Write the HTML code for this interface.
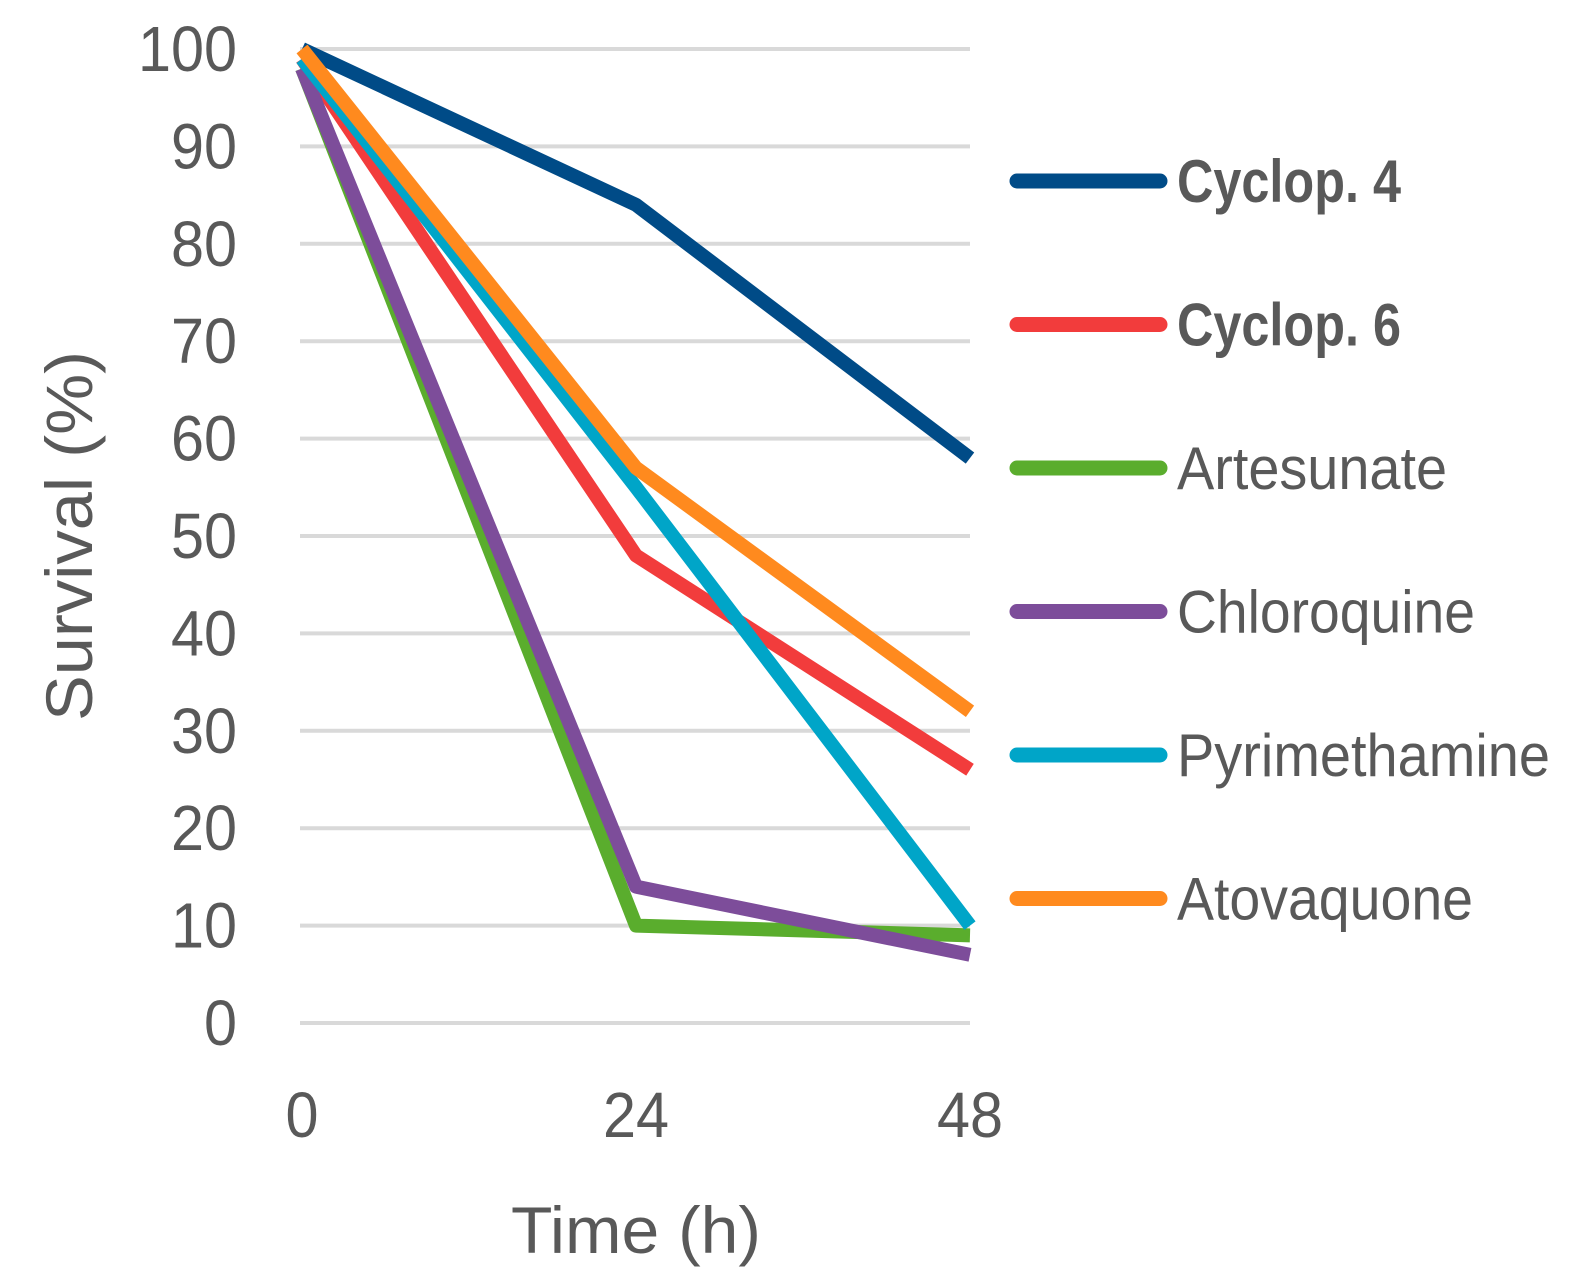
<!DOCTYPE html>
<html><head><meta charset="utf-8"><style>
html,body{margin:0;padding:0;background:#fff;}
svg{display:block;font-family:"Liberation Sans",sans-serif;}
</style></head><body>
<svg id="chart" width="1571" height="1279" viewBox="0 0 1571 1279">
<g id="grid"></g>
<g id="yticks"></g>
<g id="xticks"></g>
<g id="series"></g>
<g id="legend"></g>
<text x="636" y="1253" font-size="66" fill="#595959" text-anchor="middle" textLength="250" lengthAdjust="spacingAndGlyphs">Time (h)</text>
<text transform="translate(92,536) rotate(-90)" font-size="66" fill="#595959" text-anchor="middle" textLength="370" lengthAdjust="spacingAndGlyphs">Survival (%)</text>
</svg>
<script>
const categories = [0, 24, 48];
const yTicks = [0,10,20,30,40,50,60,70,80,90,100];
const seriesNames = ["Cyclop. 4","Cyclop. 6","Artesunate","Chloroquine","Pyrimethamine","Atovaquone"];
const cyclop4 = [100, 84, 58];
const cyclop6 = [99, 48, 26];
const artesunate = [98, 10, 9];
const chloroquine = [98, 14, 7];
const pyrimethamine = [99, 55, 10];
const atovaquone = [100, 57, 32];
const seriesValues = [cyclop4, cyclop6, artesunate, chloroquine, pyrimethamine, atovaquone];
const colors = ["#004b87","#f23c3c","#5aad2d","#7d4d9a","#00a5c8","#ff8a1e"];
const bold = [true,true,false,false,false,false];
const legendWidths = [224,224,270,298,373,296];

const NS="http://www.w3.org/2000/svg";
const y = v => 1023 - v*9.74;
const x = c => 302 + (c/48)*668;
function mk(tag, attrs, parent){const e=document.createElementNS(NS,tag);for(const k in attrs)e.setAttribute(k,attrs[k]);parent.appendChild(e);return e;}
const grid=document.getElementById('grid'), yt=document.getElementById('yticks'), xt=document.getElementById('xticks'), sg=document.getElementById('series'), lg=document.getElementById('legend');
yTicks.forEach(t=>{
  const l=mk('line',{x1:300,x2:970,y1:y(t),y2:y(t),stroke:'#d9d9d9','stroke-width':4},grid);
  
  
  const w = String(t).length*33;
  const tx=mk('text',{x:237,y:y(t)+22,'font-size':64,fill:'#595959','text-anchor':'end',textLength:w,lengthAdjust:'spacingAndGlyphs'},yt);
  tx.textContent=t;
  
  
});
categories.forEach(c=>{
  const w = String(c).length*33;
  const tx=mk('text',{x:x(c),y:1137,'font-size':64,fill:'#595959','text-anchor':'middle',textLength:w,lengthAdjust:'spacingAndGlyphs'},xt);
  tx.textContent=c;
  
  
});
seriesValues.forEach((vals,i)=>{
  const pts=vals.map((v,j)=>x(categories[j])+','+y(v)).join(' ');
  const p=mk('polyline',{points:pts,fill:'none',stroke:colors[i],'stroke-width':14,'stroke-linejoin':'round'},sg);
  
  
  const ly=181+i*143.5;
  const ll=mk('line',{x1:1017,x2:1160,y1:ly,y2:ly,stroke:colors[i],'stroke-width':15,'stroke-linecap':'round'},lg);
  
  
  const lt=mk('text',{x:1177,y:ly+21,'font-size':60,fill:'#595959','font-weight':bold[i]?'bold':'normal',textLength:legendWidths[i],lengthAdjust:'spacingAndGlyphs'},lg);
  lt.textContent=seriesNames[i];
  
  
});
</script>
</body></html>
